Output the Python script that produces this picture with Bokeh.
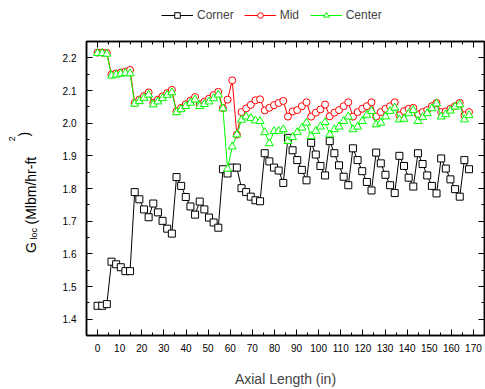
import math
from bokeh.plotting import figure
from bokeh.layouts import row, column
from bokeh.models import (LinearAxis, FixedTicker, PrintfTickFormatter, Legend, LegendItem,
                          Label, Range1d, CustomJSTickFormatter)
from bokeh.embed import file_html
from bokeh.resources import INLINE

# ---------------- data ----------------
axial_length = [0.0, 2.1, 4.2, 6.3, 8.4, 10.5, 12.6, 14.7, 16.8, 18.9,
                21.0, 23.1, 25.2, 27.3, 29.4, 31.5, 33.6, 35.7, 37.8, 39.9,
                42.0, 44.1, 46.2, 48.3, 50.4, 52.5, 54.6, 56.7, 58.8, 60.9,
                63.0, 65.1, 67.2, 69.3, 71.4, 73.5, 75.6, 77.7, 79.8, 81.9,
                84.0, 86.1, 88.2, 90.3, 92.4, 94.5, 96.6, 98.7, 100.8, 102.9,
                105.0, 107.1, 109.2, 111.3, 113.4, 115.5, 117.6, 119.7, 121.8, 123.9,
                126.0, 128.1, 130.2, 132.3, 134.4, 136.5, 138.6, 140.7, 142.8, 144.9,
                147.0, 149.1, 151.2, 153.3, 155.4, 157.5, 159.6, 161.7, 163.8, 165.9,
                168.0]

corner = [1.441, 1.441, 1.446, 1.576, 1.568, 1.559, 1.547, 1.547, 1.789, 1.767,
          1.736, 1.712, 1.754, 1.727, 1.701, 1.677, 1.662, 1.835, 1.808, 1.774,
          1.745, 1.720, 1.760, 1.736, 1.711, 1.696, 1.680, 1.859, 1.846, 1.864,
          1.864, 1.801, 1.789, 1.775, 1.764, 1.761, 1.908, 1.883, 1.864, 1.855,
          1.817, 1.955, 1.917, 1.887, 1.857, 1.825, 1.940, 1.904, 1.869, 1.840,
          1.945, 1.908, 1.871, 1.836, 1.810, 1.923, 1.887, 1.853, 1.820, 1.794,
          1.910, 1.877, 1.842, 1.810, 1.786, 1.900, 1.869, 1.833, 1.806, 1.908,
          1.875, 1.840, 1.808, 1.785, 1.892, 1.861, 1.828, 1.798, 1.775, 1.887,
          1.859]

mid = [2.216, 2.216, 2.215, 2.149, 2.152, 2.155, 2.158, 2.163, 2.062, 2.072,
       2.083, 2.094, 2.062, 2.072, 2.082, 2.092, 2.102, 2.036, 2.047, 2.058,
       2.069, 2.080, 2.058, 2.066, 2.075, 2.086, 2.096, 2.046, 2.072, 2.131,
       1.965, 2.034, 2.045, 2.056, 2.070, 2.073, 2.039, 2.047, 2.055, 2.062,
       2.068, 2.020, 2.036, 2.040, 2.052, 2.064, 2.020, 2.032, 2.042, 2.057,
       2.021, 2.032, 2.040, 2.052, 2.064, 2.020, 2.034, 2.044, 2.052, 2.064,
       2.020, 2.034, 2.044, 2.052, 2.064, 2.024, 2.037, 2.044, 2.047, 2.027,
       2.034, 2.040, 2.052, 2.062, 2.034, 2.036, 2.044, 2.052, 2.062, 2.024,
       2.034]

center = [2.214, 2.214, 2.212, 2.145, 2.148, 2.151, 2.153, 2.152, 2.059, 2.067,
          2.077, 2.087, 2.057, 2.066, 2.076, 2.086, 2.094, 2.033, 2.042, 2.052,
          2.062, 2.072, 2.052, 2.058, 2.066, 2.076, 2.087, 2.045, 1.860, 1.928,
          1.965, 2.010, 2.020, 2.015, 2.008, 2.006, 1.972, 1.938, 1.975, 1.976,
          1.981, 1.945, 1.957, 1.972, 1.986, 2.001, 1.960, 1.976, 1.989, 2.003,
          1.965, 1.981, 1.989, 2.006, 2.020, 1.981, 1.989, 2.006, 2.025, 2.037,
          1.996, 2.001, 2.020, 2.037, 2.047, 2.011, 2.013, 2.030, 2.040, 2.006,
          2.018, 2.030, 2.045, 2.060, 2.020, 2.027, 2.038, 2.050, 2.057, 2.011,
          2.024]

series_names = ["Corner", "Mid", "Center"]

x_major = [0, 10, 20, 30, 40, 50, 60, 70, 80, 90, 100, 110, 120, 130, 140, 150, 160, 170]
x_minor = [5, 15, 25, 35, 45, 55, 65, 75, 85, 95, 105, 115, 125, 135, 145, 155, 165]
y_major = [1.4, 1.5, 1.6, 1.7, 1.8, 1.9, 2.0, 2.1, 2.2]
y_minor = [1.45, 1.55, 1.65, 1.75, 1.85, 1.95, 2.05, 2.15]

FONT = "Liberation Sans"
TOP_H = 30
FRAME_BOTTOM = 336   # canvas y of the plot frame's bottom edge

STYLES = [dict(color="black", marker="square", size=7),
          dict(color="#ff0000", marker="circle", size=7),
          dict(color="#00ff00", marker="triangle", size=8)]
SERIES = [corner, mid, center]

p = figure(width=440, height=389 - TOP_H, output_backend="svg", toolbar_location=None,
           x_range=Range1d(-5, 175), y_range=Range1d(1.35, 2.25),
           min_border_left=41, min_border_right=1, min_border_top=41 - TOP_H,
           min_border_bottom=53,
           background_fill_color="white", border_fill_color="white")
p.grid.visible = False
p.outline_line_color = "black"
p.outline_line_width = 1.5


def style_axis(ax):
    ax.major_tick_in = 6
    ax.major_tick_out = 0
    ax.minor_tick_in = 3
    ax.minor_tick_out = 0
    ax.axis_line_color = "black"
    ax.axis_line_width = 1.5
    ax.major_tick_line_color = "black"
    ax.minor_tick_line_color = "black"
    ax.major_tick_line_width = 1
    ax.minor_tick_line_width = 1
    ax.major_label_text_font = FONT
    ax.major_label_text_font_size = "10px"
    ax.major_label_text_color = "black"


xt = FixedTicker(ticks=x_major, minor_ticks=x_minor)
yt = FixedTicker(ticks=y_major, minor_ticks=y_minor)

xa = p.xaxis[0]
xa.ticker = xt
style_axis(xa)
xa.major_label_standoff = 8
xa.axis_label = "Axial Length (in)"
xa.axis_label_text_font = FONT
xa.axis_label_text_font_size = "14px"
xa.axis_label_text_font_style = "normal"
xa.axis_label_standoff = 16

ya = p.yaxis[0]
ya.ticker = yt
ya.formatter = PrintfTickFormatter(format="%.1f")
style_axis(ya)
ya.major_label_standoff = 10

empty = CustomJSTickFormatter(code="return ''")
top = LinearAxis(ticker=xt, formatter=empty, major_label_standoff=0)
style_axis(top)
p.add_layout(top, "above")
right = LinearAxis(ticker=yt, formatter=empty, major_label_standoff=0)
style_axis(right)
p.add_layout(right, "right")

# series
for ys, st in zip(SERIES, STYLES):
    p.line(axial_length, ys, line_color=st["color"], line_width=1)
    p.scatter(axial_length, ys, marker=st["marker"], size=st["size"],
              line_color=st["color"], fill_color="white", line_width=1)

# ---- top strip holding the legend (its own copies of the series lie outside its ranges) ----
lf = figure(width=485, height=TOP_H, output_backend="svg", toolbar_location=None,
            x_range=Range1d(1000, 1001), y_range=Range1d(1000, 1001),
            x_axis_location=None, y_axis_location=None,
            min_border_left=0, min_border_right=0, min_border_top=0, min_border_bottom=0,
            background_fill_color="white", border_fill_color="white")
lf.outline_line_color = None
lf.grid.visible = False
items = []
for name, ys, st in zip(series_names, SERIES, STYLES):
    r1 = lf.line(axial_length, ys, line_color=st["color"], line_width=1)
    r2 = lf.scatter(axial_length, ys, marker=st["marker"], size=st["size"],
                    line_color=st["color"], fill_color="white", line_width=1)
    items.append(LegendItem(label=name, renderers=[r1, r2]))
legend = Legend(items=items, orientation="horizontal", location=(161, 8),
                border_line_color=None, background_fill_alpha=0,
                padding=0, margin=0, spacing=10, glyph_width=32, glyph_height=14,
                label_standoff=4, label_text_font=FONT, label_text_font_size="12px",
                label_height=14)
lf.add_layout(legend)

# ---- narrow strip holding the y-axis title (with sub/superscript) ----
q = figure(width=45, height=389 - TOP_H, output_backend="svg", toolbar_location=None,
           x_range=Range1d(0, 1), y_range=Range1d(0, 1),
           x_axis_location=None, y_axis_location=None,
           min_border_left=0, min_border_right=0, min_border_top=41 - TOP_H,
           min_border_bottom=389 - FRAME_BOTTOM,
           background_fill_color="white", border_fill_color="white")
q.outline_line_color = None
q.grid.visible = False

ylab = [("G", 30, 253.5, "14px"),
        ("loc", 33.5, 240, "9px"),
        ("(Mlbm/hr-ft", 30, 225, "14px"),
        ("2", 11.5, 141.7, "9px"),
        (")", 23, 137, "14px")]
for t, cx, cy, fs in ylab:
    q.add_layout(Label(x=cx, y=FRAME_BOTTOM - cy, x_units="screen", y_units="screen", text=t,
                       angle=math.pi / 2, text_align="left", text_baseline="middle",
                       text_font=FONT, text_font_size=fs, text_color="black"))

layout = column(lf, row(q, p, spacing=0), spacing=0)
open("out.html", "w").write(file_html(layout, INLINE))
